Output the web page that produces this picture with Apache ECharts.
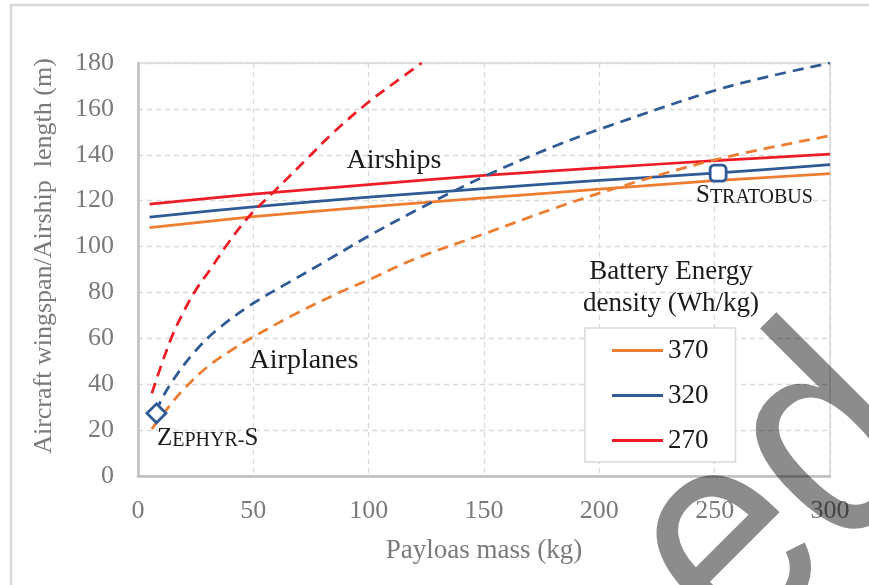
<!DOCTYPE html>
<html><head><meta charset="utf-8">
<script src="https://cdn.jsdelivr.net/npm/echarts@6/dist/echarts.min.js"></script>
<style>html,body{margin:0;padding:0;background:#fff}#c{width:869px;height:585px}</style>
</head><body><div id="c"></div>
<script>
// ---- data ----
const energyLevels = ['370', '320', '270'];
const energyColors = ['#ED7D31', '#2F5A96', '#EE1C25'];

const airshipX   = [5, 50, 100, 150, 200, 250, 300];
const airship370 = [108.3, 113, 117.3, 121.2, 125, 128.7, 131.8];
const airship320 = [112.8, 117.3, 121.5, 125.3, 128.8, 132, 135.7];
const airship270 = [118.5, 122.8, 127, 131, 134.3, 137.4, 140.3];

const airplane370X = [6, 12, 20, 30, 40, 48, 67, 88, 100, 121, 150, 180, 204, 250, 300];
const airplane370  = [20.5, 28.5, 38, 47.5, 54.5, 59.5, 70, 80.3, 85.5, 95, 105.5, 116.5, 124.5, 137.8, 148.3];
const airplane320X = [8, 10, 15, 24, 34, 50, 66, 82, 100, 121, 150, 180, 204, 250, 275, 300];
const airplane320  = [28, 33, 41.5, 53.5, 63.5, 75.3, 84.7, 94, 104.6, 116, 130.5, 143.5, 152.5, 168, 174.5, 180];
const airplane270X = [6, 10, 15, 20, 25, 32, 38, 48, 59, 73, 85, 100, 112, 123];
const airplane270  = [36, 48, 61.5, 72, 81, 91, 100, 113, 124, 138, 150, 163, 172, 180];

const markerNames = ['Zephyr-S', 'Stratobus'];
const markerX = [8, 251.5];
const markerY = [27.3, 132];
const markerSymbols = ['diamond', 'roundRect'];

const xMin = 0, xMax = 300, xStep = 50;
const yMin = 0, yMax = 180, yStep = 20;

const xAxisTitle = 'Payloas mass (kg)';
const yAxisTitle = 'Aircraft wingspan/Airship  length (m)';
const legendTitle = 'Battery Energy\ndensity (Wh/kg)';
const annotAirships = 'Airships';
const annotAirplanes = 'Airplanes';
const watermarkText = 'ed';   // only the visible part of the stamp

// ---- build ----
const SERIF = "'Liberation Serif','Times New Roman',serif";
const pairs = (xs, ys) => xs.map((x, i) => [x, ys[i]]);
const airshipSets = [airship370, airship320, airship270];
const airplaneSets = [[airplane370X, airplane370], [airplane320X, airplane320], [airplane270X, airplane270]];

const series = [];
energyLevels.forEach((lvl, i) => {
  series.push({
    name: lvl, type: 'line', data: pairs(airshipX, airshipSets[i]),
    smooth: 0.3, showSymbol: false, symbol: 'none', z: 3,
    color: energyColors[i],
    lineStyle: { color: energyColors[i], width: 2.75 }
  });
});
energyLevels.forEach((lvl, i) => {
  series.push({
    name: 'Airplanes ' + lvl, type: 'line', data: pairs(airplaneSets[i][0], airplaneSets[i][1]),
    smooth: 0.35, showSymbol: false, symbol: 'none', z: 3, clip: true,
    color: energyColors[i],
    lineStyle: { color: energyColors[i], width: 2.75, type: [11, 7] }
  });
});
series.push({
  name: 'Aircraft', type: 'scatter', z: 5,
  data: markerNames.map((n, i) => ({
    name: n, value: [markerX[i], markerY[i]], symbol: markerSymbols[i],
    symbolSize: i === 0 ? 19 : 16
  })),
  itemStyle: { color: '#ffffff', borderColor: '#2F5A96', borderWidth: 2.8, opacity: 1 },
  emphasis: { disabled: true }
});

const chart = echarts.init(document.getElementById('c'), null, { renderer: 'canvas' });
chart.setOption({
  animation: false,
  backgroundColor: '#fff',
  grid: { left: 138, top: 63, right: 39, bottom: 109, show: true, borderColor: '#d9d9d9', borderWidth: 1.5, containLabel: false },
  xAxis: {
    type: 'value', min: xMin, max: xMax, interval: xStep,
    name: xAxisTitle, nameLocation: 'middle', nameGap: 61,
    nameTextStyle: { fontFamily: SERIF, fontSize: 27, color: '#7a7a7a' },
    axisLine: { show: true, onZero: false, lineStyle: { color: '#bfbfbf', width: 2.5 } },
    axisTick: { show: false },
    axisLabel: { fontFamily: SERIF, fontSize: 26, color: '#7a7a7a', margin: 22 },
    splitLine: { show: true, lineStyle: { color: '#d9d9d9', width: 1.3, type: [5, 4] } }
  },
  yAxis: {
    type: 'value', min: yMin, max: yMax, interval: yStep,
    axisLine: { show: true, lineStyle: { color: '#bfbfbf', width: 2.5 } },
    axisTick: { show: false },
    axisLabel: { fontFamily: SERIF, fontSize: 26, color: '#7a7a7a', margin: 24 },
    splitLine: { show: true, lineStyle: { color: '#d9d9d9', width: 1.3, type: [5, 4] } }
  },
  legend: {
    data: energyLevels.map(n => ({ name: n })),
    orient: 'vertical', left: 585, top: 328,
    padding: [9, 27, 8, 27], itemGap: 18, itemWidth: 51, itemHeight: 3,
    icon: 'rect', backgroundColor: '#fff', borderColor: '#d9d9d9', borderWidth: 1.5,
    borderRadius: 0,
    textStyle: { fontFamily: SERIF, fontSize: 27, color: '#1a1a1a', padding: [0, 0, 0, 0] },
    itemStyle: { borderWidth: 0 }, z: 6
  },
  series: series,
  graphic: [
    { type: 'rect', z: -10, silent: true, shape: { x: 11, y: 5, width: 900, height: 700 },
      style: { fill: 'none', stroke: '#d9d9d9', lineWidth: 2.5 } },
    { type: 'text', z: 10, x: 44, y: 256, rotation: Math.PI / 2,
      style: { text: yAxisTitle, font: "26px " + SERIF, fill: '#7a7a7a', align: 'center', verticalAlign: 'middle' } },
    { type: 'text', z: 10, x: 394, y: 161, style: { text: annotAirships, font: "28px " + SERIF, fill: '#1a1a1a', align: 'center', verticalAlign: 'middle' } },
    { type: 'text', z: 10, x: 304, y: 361, style: { text: annotAirplanes, font: "28px " + SERIF, fill: '#1a1a1a', align: 'center', verticalAlign: 'middle' } },
    { type: 'text', z: 10, x: 671, y: 288, style: { text: legendTitle, font: "27px " + SERIF, lineHeight: 32, fill: '#1a1a1a', align: 'center', verticalAlign: 'middle' } },
    { type: 'text', z: 10, x: 157, y: 451, style: {
        text: '{a|Z}{b|EPHYR-}{a|S}', fill: '#1a1a1a', align: 'left', verticalAlign: 'bottom',
        rich: { a: { fontFamily: SERIF, fontSize: 25, lineHeight: 25, verticalAlign: 'bottom', fill: '#1a1a1a' },
                b: { fontFamily: SERIF, fontSize: 20, lineHeight: 20, verticalAlign: 'bottom', fill: '#1a1a1a' } } } },
    { type: 'text', z: 10, x: 696, y: 208, style: {
        text: '{a|S}{b|TRATOBUS}', fill: '#1a1a1a', align: 'left', verticalAlign: 'bottom',
        rich: { a: { fontFamily: SERIF, fontSize: 25, lineHeight: 25, verticalAlign: 'bottom', fill: '#1a1a1a' },
                b: { fontFamily: SERIF, fontSize: 20, lineHeight: 20, verticalAlign: 'bottom', fill: '#1a1a1a' } } } },
    { type: 'text', z: 100, silent: true, x: 884, y: 395, rotation: Math.PI / 4, scaleX: 0.87, scaleY: 1,
      style: { text: watermarkText, font: "300px 'Liberation Sans', Arial, sans-serif", fill: 'rgba(0,0,0,0.45)', align: 'right', verticalAlign: 'middle' } }
  ]
});
</script>
</body></html>
